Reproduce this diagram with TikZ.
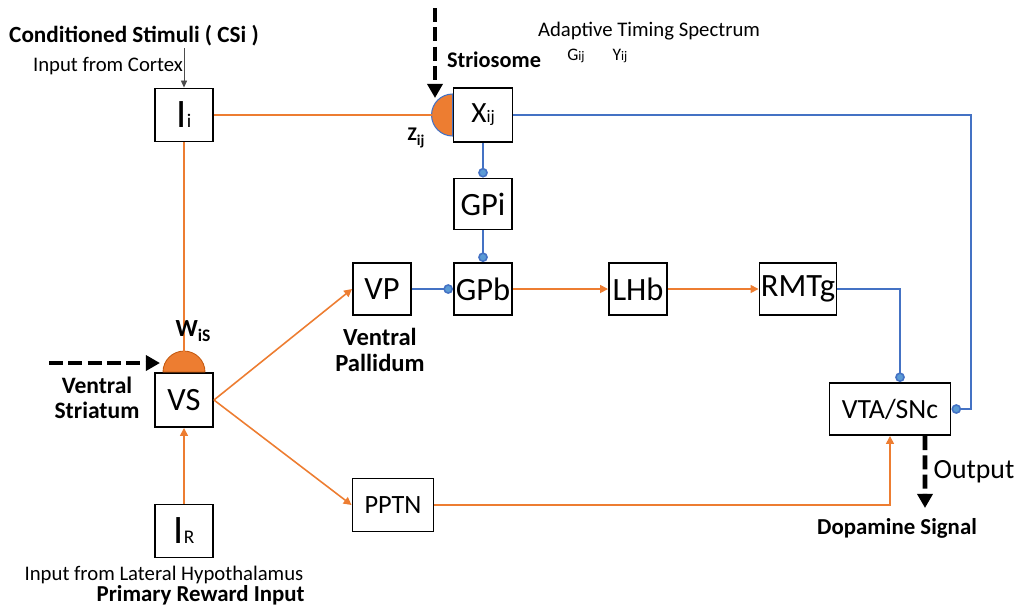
\documentclass[tikz,border=0pt]{standalone}
\usepackage{fontspec}
\setmainfont{Carlito}
\usetikzlibrary{arrows.meta}

\definecolor{ornge}{HTML}{ED7D31}
\definecolor{orngedk}{HTML}{C55A11}
\definecolor{blu}{HTML}{4472C4}
\definecolor{dotblu}{HTML}{5B9BD5}

\newcommand{\fsz}[1]{\fontsize{#1}{#1}\selectfont}

\begin{document}
\begin{tikzpicture}[x=0.02cm, y=-0.02cm,
    box/.style={draw, fill=white, line width=1.1pt, inner sep=0pt, font=\fsz{18.5}},
    exc/.style={ornge, line width=0.9pt, -{Triangle[length=4.5pt,width=4.5pt]}},
    inh/.style={blu, line width=0.9pt, -{Circle[length=5.5pt,fill=dotblu]}},
    bigdash/.style={line width=2.8pt, dash pattern=on 8pt off 3pt, -{Triangle[length=8pt,width=8.5pt]}},
    txt/.style={font=\fsz{11.8}, inner sep=0pt},
    btxt/.style={font=\bfseries\fsz{13}, inner sep=0pt, align=center}]

    \useasboundingbox (0,0) rectangle (1018,610);

    % --- Boxes ---
    \node[box, minimum width=1.16cm, minimum height=1.06cm] (inI) at (184,115)
        {{\fsz{23}I}{\fsz{11}i}};
    \node[box, minimum width=1.18cm, minimum height=1.08cm] (X) at (483,115)
        {{\fsz{16.7}X}{\fsz{10}ij}};
    \node[box, minimum width=1.16cm, minimum height=1.02cm] (GPi) at (483,204) {GPi};
    \node[box, minimum width=1.16cm, minimum height=1.04cm] (GPb) at (483,289) {GPb};
    \node[box, minimum width=1.16cm, minimum height=1.04cm] (VP) at (382,289) {VP};
    \node[box, minimum width=1.16cm, minimum height=1.04cm] (LHb) at (638,289) {LHb};
    \node[box, minimum width=1.54cm, minimum height=1.04cm] (RMTg) at (798,289) {RMTg};
    \node[box, minimum width=1.16cm, minimum height=1.08cm] (VS) at (184,400) {VS};
    \node[box, minimum width=1.16cm, minimum height=1.06cm] (IR) at (184,531)
        {{\fsz{23}I}{\fsz{11}R}};
    \node[box, minimum width=1.62cm, minimum height=1.06cm, font=\fsz{15}] (PPTN) at (393,505) {PPTN};
    \node[box, minimum width=2.42cm, minimum height=1.04cm, font=\fsz{15.8}] (VTA) at (890,409) {VTA/SNc};

    % --- Semicircles (synapses) ---
    \filldraw[fill=ornge, draw=blu, line width=0.6pt]
        (X.west) ++(0,0.42cm) arc[start angle=90, end angle=270, radius=0.42cm] -- cycle;
    \filldraw[fill=ornge, draw=orngedk, line width=0.5pt]
        (VS.north) ++(-0.42cm,0) arc[start angle=180, end angle=0, radius=0.42cm] -- cycle;
    \coordinate (zX) at (432,115);
    \coordinate (wVS) at (184,352);
    \coordinate (csTop) at (184,48);
    \coordinate (strTop) at (435,8);
    \coordinate (vsLeft) at (49,363);
    \coordinate (vsIn) at (160,363);
    \coordinate (outEnd) at (925,508);

    % --- Orange connectors ---
    \draw[ornge, line width=0.9pt] (inI.east) -- (zX);
    \draw[ornge, line width=0.9pt] (inI.south) -- (wVS);
    \draw[exc] (IR.north) -- (VS.south);
    \draw[exc] (VS.east) -- (VP.west);
    \draw[exc] (VS.east) -- (PPTN.west);
    \draw[exc] (GPb.east) -- (LHb.west);
    \draw[exc] (LHb.east) -- (RMTg.west);
    \draw[exc] (PPTN.east) -| (VTA.south);

    % --- Blue connectors ---
    \draw[inh] (X.south) -- (GPi.north);
    \draw[inh] (GPi.south) -- (GPb.north);
    \draw[inh] (VP.east) -- (GPb.west);
    \draw[inh] (RMTg.east) -| ([xshift=0.2cm]VTA.north);
    \draw[inh] (X.east) -- (971,115) |- (VTA.east);

    % --- Inputs and output ---
    \draw[gray!60!black, line width=0.5pt, -{Triangle[length=4pt,width=3.5pt]}] (csTop) -- (inI.north);
    \draw[bigdash] (strTop) -- (435,98);
    \draw[bigdash] (vsLeft) -- (vsIn);
    \draw[bigdash] ([xshift=0.7cm]VTA.south) -- (outEnd);

    % --- Labels ---
    \node[btxt, font=\bfseries\fsz{13.2}] (csLbl) at (134,36) {Conditioned Stimuli ( CSi )};
    \node[txt] (ctxLbl) at (108,66) {Input from Cortex};
    \node[btxt, font=\bfseries\fsz{12.7}] (strLbl) at (494,60) {Striosome};
    \node[txt] (atsLbl) at (649,31) {Adaptive Timing Spectrum};
    \node[inner sep=0pt] (gLbl) at (576,56) {{\fsz{10}G}{\fsz{7.5}ij}};
    \node[inner sep=0pt] (yLbl) at (620,56) {{\fsz{10}Y}{\fsz{7.5}ij}};
    \node[inner sep=0pt, font=\bfseries] (zLbl) at (416,138)
        {{\fsz{11}Z}\raisebox{-0.6ex}{\fsz{8.5}ij}};
    \node[inner sep=0pt, font=\bfseries] (wLbl) at (193,331)
        {{\fsz{14}W}\raisebox{-0.6ex}{\fsz{10}iS}};
    \node[btxt, font=\bfseries\fsz{13.4}] (vsLbl) at (97,398) {Ventral\\[1pt]Striatum};
    \node[btxt, font=\bfseries\fsz{14}] (vpLbl) at (380,350) {Ventral\\[1pt]Pallidum};
    \node[txt, font=\fsz{15.8}] (outLbl) at (974,472) {Output};
    \node[btxt] (daLbl) at (897,528) {Dopamine Signal};
    \node[txt] (lhLbl) at (164,575) {Input from Lateral Hypothalamus};
    \node[btxt, font=\bfseries\fsz{13}, anchor=east] (rwLbl) at (305,595) {Primary Reward Input};

\end{tikzpicture}
\end{document}
